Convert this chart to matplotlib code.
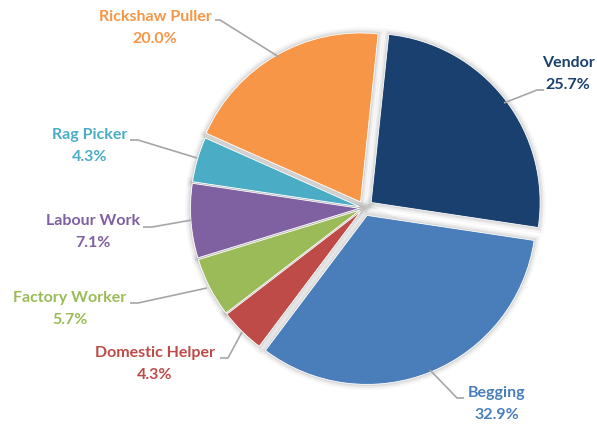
import matplotlib
matplotlib.use("Agg")
import matplotlib.pyplot as plt
import matplotlib.patheffects as pe

# Occupation shares (%), listed clockwise from the top
categories = ["Vendor", "Begging", "Domestic Helper", "Factory Worker",
              "Labour Work", "Rag Picker", "Rickshaw Puller"]
shares = [25.7, 32.9, 4.3, 5.7, 7.1, 4.3, 20.0]

# Styling
colors = ["#19406e", "#4a7ebb", "#be4b48", "#9bbb59",
          "#7f60a0", "#4bacc6", "#f79646"]
explode_px = [9, 8, 4.5, 4.5, 4.5, 4.5, 7]

# Layout in pixel coordinates (origin top-left)
W, H = 597, 424
center_px = (364, 208)
radius_px = 169
label_xy = [(568, 63), (497, 393), (155, 353), (70, 298),
            (93, 221), (90, 135), (155, 17)]
leaders = [
    [(504, 103), (537, 90), (544, 90)],
    [(430, 370), (457, 398), (464, 398)],
    [(242, 332), (228, 358), (220, 358)],
    [(207, 288), (138, 303), (130, 303)],
    [(192, 220), (152, 227), (143, 227)],
    [(197, 158), (138, 140), (130, 140)],
    [(279, 57), (220, 20), (215, 20)],
]

plt.rcParams["font.family"] = ["Lato", "DejaVu Sans"]

fig = plt.figure(figsize=(W / 100, H / 100), dpi=100)
ax = fig.add_axes([0, 0, 1, 1])

center = (center_px[0], H - center_px[1])
common = dict(explode=explode_px, startangle=84, counterclock=False,
              center=center, radius=radius_px, frame=True)

# soft shadow underneath the wedges
shadow, _ = ax.pie(shares, colors=["white"] * len(shares),
                   wedgeprops=dict(linewidth=0, zorder=1), **common)
for w in shadow:
    w.set_path_effects([
        pe.Stroke(linewidth=8, foreground="black", alpha=0.03),
        pe.Stroke(linewidth=5, foreground="black", alpha=0.05),
        pe.Stroke(linewidth=2.5, foreground="black", alpha=0.07),
        pe.Normal(),
    ])

wedges, _ = ax.pie(shares, colors=colors,
                   wedgeprops=dict(linewidth=0.6, edgecolor="white", zorder=2),
                   **common)

for name, val, col, (x, y), pts in zip(categories, shares, colors,
                                        label_xy, leaders):
    ax.text(x, H - y, name, color=col, fontsize=11.5, fontweight="bold",
            ha="center", va="center", zorder=5)
    ax.text(x, H - y - 22, f"{val:.1f}%", color=col, fontsize=11.5,
            fontweight="bold", ha="center", va="center", zorder=5)
    xs = [p[0] for p in pts]
    ys = [H - p[1] for p in pts]
    ax.plot(xs, ys, color="#a6a6a6", lw=1.2, zorder=4,
            solid_capstyle="butt")

ax.set_xlim(0, W)
ax.set_ylim(0, H)
ax.set_aspect("equal")
ax.axis("off")

fig.savefig("out.png", dpi=100, facecolor="white")
